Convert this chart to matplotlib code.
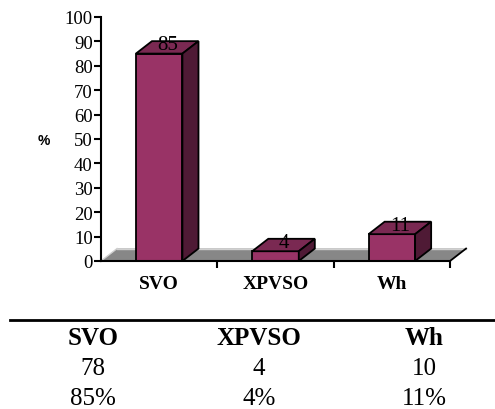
import numpy as np
import matplotlib.pyplot as plt
from matplotlib.patches import Polygon

categories = ["SVO", "XPVSO", "Wh"]
counts = [78, 4, 10]
percents = [85, 4, 11]

front_col = "#993366"
top_col = "#7a2952"
side_col = "#4f1a35"
serif = ["Liberation Serif", "DejaVu Serif"]

W, H = 495, 410
fig = plt.figure(figsize=(W / 100, H / 100), dpi=100)
ax = fig.add_axes([101 / W, (H - 262) / H, 349 / W, 244 / H])

x = np.arange(len(categories))
bw = 0.40
dx, dy = 0.138, 5.1   # depth offset for the 3d look (data units)

ax.set_xlim(-0.5, 2.5)
ax.set_ylim(0, 100)

# floor
floor = Polygon([(-0.5, 0), (2.5, 0), (2.5 + dx, dy), (-0.5 + dx, dy)],
                closed=True, facecolor="#878787", edgecolor="none",
                clip_on=False, zorder=1)
ax.add_patch(floor)
ax.plot([-0.5 + dx, 2.5 + dx], [dy, dy], color="#d0d0d0", lw=1,
        clip_on=False, zorder=1)
ax.plot([-0.5, -0.5 + dx], [0, dy], color="#d0d0d0", lw=1,
        clip_on=False, zorder=1)
ax.plot([2.5, 2.5 + dx], [0, dy], color="black", lw=1.3,
        clip_on=False, zorder=1)

bars = ax.bar(x, percents, width=bw, color=front_col, edgecolor="black",
              linewidth=1.3, zorder=3)
for b, v in zip(bars, percents):
    x0, x1 = b.get_x(), b.get_x() + b.get_width()
    top = Polygon([(x0, v), (x1, v), (x1 + dx, v + dy), (x0 + dx, v + dy)],
                  closed=True, facecolor=top_col, edgecolor="black",
                  lw=1.3, zorder=3, clip_on=False)
    side = Polygon([(x1, 0), (x1 + dx, dy), (x1 + dx, v + dy), (x1, v)],
                   closed=True, facecolor=side_col, edgecolor="black",
                   lw=1.3, zorder=3, clip_on=False)
    ax.add_patch(top)
    ax.add_patch(side)
    ax.text((x0 + x1) / 2 + dx / 2, v + dy - 1.5, str(v), ha="center",
            va="center", fontsize=15, family=serif, color="black", zorder=4)

# axes styling
for s in ["top", "right"]:
    ax.spines[s].set_visible(False)
ax.spines["left"].set_linewidth(1.5)
ax.spines["bottom"].set_linewidth(1.5)
ax.spines["left"].set_zorder(5)
ax.spines["bottom"].set_zorder(5)
ax.set_yticks(range(0, 101, 10))
ax.set_yticklabels([str(t) for t in range(0, 101, 10)], family=serif,
                   fontsize=13.5)
ax.tick_params(axis="y", length=5, width=1.5, pad=1)
ax.set_xticks(x)
ax.set_xticklabels(categories, family=serif, fontsize=14,
                   fontweight="bold")
ax.tick_params(axis="x", which="major", length=0, pad=10)
ax.set_xticks([0.5, 1.5, 2.5], minor=True)
ax.tick_params(axis="x", which="minor", length=5, width=1.5)
ax.set_facecolor("none")

fig.text(44 / W, 1 - 141 / H, "%", ha="center", va="center",
         fontsize=10, fontweight="bold", family="Liberation Sans")

# summary table below the chart
fig.add_artist(plt.Line2D([10 / W, 1], [1 - 321 / H, 1 - 321 / H],
                          color="black", lw=2))
col_x = [93, 259, 424]
for cx, cat, n, p in zip(col_x, categories, counts, percents):
    fig.text(cx / W, 1 - 339 / H, cat, ha="center", va="center",
             fontsize=18, fontweight="bold", family=serif)
    fig.text(cx / W, 1 - 369 / H, str(n), ha="center", va="center",
             fontsize=18, family=serif)
    fig.text(cx / W, 1 - 399 / H, f"{p}%", ha="center", va="center",
             fontsize=18, family=serif)

fig.savefig("out.png", dpi=100)
